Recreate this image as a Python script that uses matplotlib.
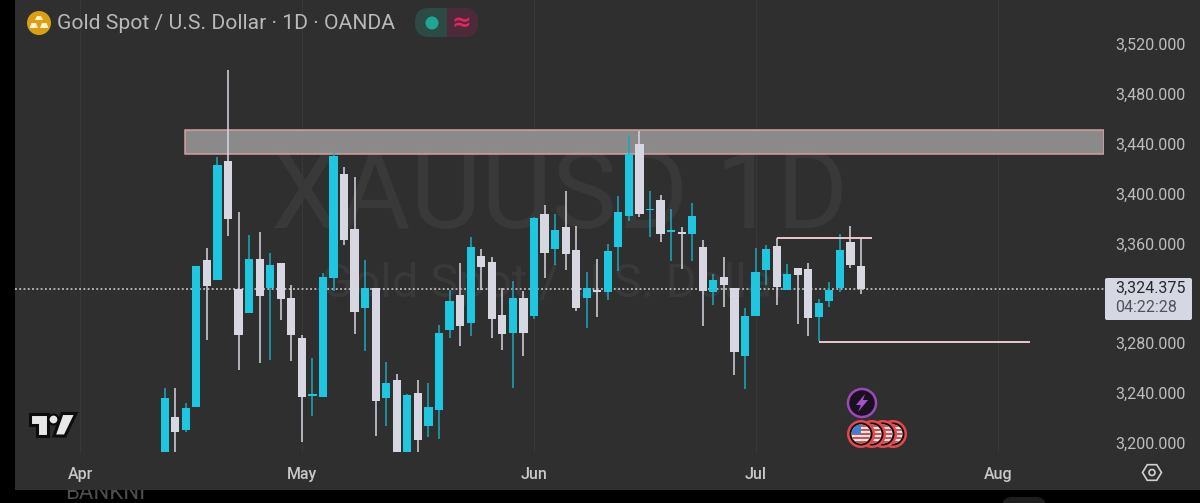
import matplotlib
matplotlib.use("Agg")
import numpy as np
import matplotlib.pyplot as plt
from matplotlib.patches import Rectangle, Circle, Polygon, FancyBboxPatch
from matplotlib.transforms import ScaledTranslation

plt.rcParams['font.family'] = ['Roboto', 'DejaVu Sans']

# daily candles, one value per session
opens = [3193.9, 3222.1, 3212.0, 3230.1, 3348.0, 3332.0, 3427.5, 3324.5, 3305.3, 3348.8, 3325.6,
         3345.3, 3317.3, 3285.1, 3239.2, 3237.9, 3333.3, 3416.8, 3372.5, 3309.6, 3325.1, 3237.3,
         3251.5, 3193.9, 3241.3, 3215.2, 3227.5, 3292.0, 3319.5, 3297.3, 3351.2, 3345.9, 3304.0,
         3289.3, 3317.3, 3302.7, 3384.5, 3356.5, 3374.1, 3356.0, 3317.3, 3324.0, 3322.1, 3357.9,
         3383.5, 3440.5, 3387.7, 3396.0, 3370.4, 3369.9, 3368.8, 3358.1, 3322.1, 3333.9, 3325.3,
         3271.2, 3302.7, 3339.5, 3359.2, 3323.5, 3341.3, 3340.3, 3302.4, 3315.2, 3325.3, 3362.1,
         3342.7]
highs = [3245.3, 3245.3, 3233.3, 3342.7, 3357.3, 3430.1, 3500.0, 3386.7, 3367.5, 3370.1, 3353.3,
         3345.3, 3328.0, 3287.7, 3269.1, 3337.3, 3433.9, 3422.1, 3414.7, 3347.5, 3325.1, 3265.9,
         3256.8, 3240.5, 3251.5, 3249.3, 3295.5, 3324.0, 3345.3, 3366.1, 3356.5, 3350.1, 3325.3,
         3331.2, 3322.7, 3382.7, 3392.0, 3384.5, 3403.5, 3375.2, 3337.9, 3348.8, 3360.5, 3399.2,
         3448.0, 3451.5, 3403.2, 3400.0, 3388.5, 3374.1, 3393.3, 3363.5, 3336.8, 3350.1, 3325.3,
         3309.3, 3357.3, 3359.5, 3365.3, 3344.8, 3341.3, 3345.3, 3316.5, 3329.9, 3368.5, 3374.7,
         3365.3]
lows = [3193.9, 3193.9, 3210.1, 3230.1, 3284.0, 3332.0, 3366.7, 3260.0, 3305.3, 3265.3, 3268.0,
        3300.0, 3266.7, 3201.9, 3222.7, 3237.9, 3322.7, 3360.0, 3288.8, 3274.7, 3207.2, 3215.2,
        3193.9, 3193.9, 3193.9, 3206.1, 3204.5, 3285.1, 3278.7, 3287.2, 3323.5, 3285.3, 3276.0,
        3245.3, 3271.2, 3300.5, 3333.1, 3343.5, 3339.5, 3306.7, 3293.3, 3301.9, 3315.5, 3338.7,
        3379.5, 3382.7, 3366.1, 3362.4, 3347.2, 3340.5, 3346.7, 3295.2, 3312.0, 3309.9, 3255.5,
        3244.5, 3302.7, 3327.5, 3311.7, 3323.5, 3296.3, 3286.7, 3282.7, 3310.1, 3322.1, 3341.1,
        3320.3]
closes = [3237.3, 3210.1, 3229.3, 3342.7, 3327.2, 3424.0, 3381.1, 3287.7, 3348.5, 3319.2, 3343.5,
          3316.8, 3287.7, 3237.9, 3240.5, 3333.9, 3431.2, 3364.0, 3305.9, 3325.1, 3234.7, 3249.3,
          3193.9, 3239.5, 3204.0, 3229.9, 3289.3, 3314.9, 3294.7, 3358.1, 3342.1, 3300.5, 3288.5,
          3317.3, 3289.3, 3381.9, 3353.3, 3372.0, 3352.3, 3309.3, 3325.3, 3322.4, 3354.7, 3386.1,
          3432.5, 3384.8, 3389.1, 3368.8, 3371.7, 3368.8, 3383.5, 3322.9, 3332.0, 3327.5, 3273.9,
          3302.7, 3338.4, 3356.8, 3325.9, 3336.5, 3336.0, 3301.6, 3313.3, 3324.0, 3355.5, 3343.5,
          3324.375]

month_labels = ['Apr', 'May', 'Jun', 'Jul', 'Aug']
month_pos = [-8, 13, 35, 56, 79]
price_ticks = [3200, 3240, 3280, 3360, 3400, 3440, 3480, 3520]
last_price = 3324.375
countdown = '04:22:28'

zone_low, zone_high = 3432.8, 3452.0
zone_start, zone_end = 1.92, 89.03
res_level, res_start, res_end = 3365.6, 58, 67
sup_level, sup_start, sup_end = 3282.6, 62, 82

BG = '#2f2f2f'
UP = '#1fc6df'
UP_WICK = '#1ba9bf'
DOWN = '#d6d7e0'
GRID = '#383838'
WM = '#393939'
LABEL = '#bdbdbd'
LEVEL = '#ecc8cc'


def px_axes(fig, zorder):
    a = fig.add_axes([0, 0, 1, 1], zorder=zorder)
    a.set_xlim(0, 1200)
    a.set_ylim(503, 0)
    a.axis('off')
    a.patch.set_alpha(0)
    return a


def draw_flag(a, cx, cy):
    a.add_patch(Circle((cx, cy), 14, fc='#e8474c', ec='none'))
    a.add_patch(Circle((cx, cy), 11.5, fc='#111111', ec='none'))
    face = Circle((cx, cy), 9.5, fc='#f2f2f2', ec='none')
    a.add_patch(face)
    for k in range(-2, 3):
        s = a.add_patch(Rectangle((cx - 10, cy + k * 4 - 1), 20, 2, fc='#e8474c', ec='none'))
        s.set_clip_path(face)
    c = a.add_patch(Rectangle((cx - 10, cy - 10), 10, 10, fc='#3d7fd0', ec='none'))
    c.set_clip_path(face)


fig = plt.figure(figsize=(12, 5.03), dpi=100, facecolor='black')

# background panel, watermark
back = px_axes(fig, 0)
back.text(65, 499, 'BANKNI', color='#4d4d4d', fontsize=16, ha='left', va='baseline', zorder=1)
back.add_patch(FancyBboxPatch((1002, 497), 44, 20, boxstyle='round,pad=0,rounding_size=10',
                              fc='#1e1e1e', ec='none', zorder=1))
back.add_patch(Rectangle((15, 0), 1185, 490, fc=BG, ec='none', zorder=2))
back.text(560, 198, 'XAUUSD 1D', color=WM, fontsize=78.5, ha='center', va='center', zorder=3)
back.text(555, 284, 'Gold Spot / U.S. Dollar', color=WM, fontsize=34, ha='center', va='center', zorder=3)

# price axes
ax = fig.add_axes([15 / 1200, 1 - 452.5 / 503, 1089 / 1200, 452.5 / 503], zorder=1)
ax.patch.set_alpha(0)
ax.set_xlim(-14.19, 89.03)
ax.set_ylim(3193.8, 3556)
for s in ax.spines.values():
    s.set_visible(False)
ax.set_xticks(month_pos)
ax.set_xticklabels(month_labels, color='#c8c8c8', fontsize=11.5, fontweight='medium')
ax.tick_params(axis='x', length=0, pad=10.5)
ax.yaxis.tick_right()
ax.set_yticks(price_ticks)
ax.set_yticklabels([f'{p:,.3f}' for p in price_ticks], color=LABEL, fontsize=11.5, ha='left')
ax.tick_params(axis='y', length=0, pad=8)
for lab in ax.get_yticklabels():
    lab.set_transform(lab.get_transform() + ScaledTranslation(0, 1.5 / 100, fig.dpi_scale_trans))
ax.set_axisbelow(True)
ax.grid(axis='x', color=GRID, lw=0.8)

ax.add_patch(Rectangle((zone_start, zone_low), zone_end - zone_start, zone_high - zone_low,
                       fc='#8e8e8e', ec='#d9a0a4', lw=1.1, zorder=1, alpha=0.97))
ax.axhline(last_price, color='#d8d8d8', lw=1.1, ls=(0, (1.2, 1.6)), zorder=1.5)

idx = np.arange(len(opens))
o = np.array(opens)
c = np.array(closes)
up = c >= o
ax.vlines(idx, lows, highs, colors=[UP_WICK if u else DOWN for u in up], lw=1.1, zorder=2)
ax.bar(idx, np.abs(c - o), bottom=np.minimum(o, c), width=0.78,
       color=[UP if u else DOWN for u in up], zorder=3)

ax.hlines(res_level, res_start, res_end, color=LEVEL, lw=1.4, zorder=4)
ax.hlines(sup_level, sup_start, sup_end, color=LEVEL, lw=1.4, zorder=4)

# chart chrome in pixels
top = px_axes(fig, 2)
top.add_patch(Circle((39, 23), 12, fc='#dd9f12', ec='none'))
for bar in ([(35, 20), (43, 20), (41, 16), (37, 16)],
            [(29.5, 28), (38, 28), (36, 23), (31.5, 23)],
            [(40, 28), (48.5, 28), (46.5, 23), (42, 23)]):
    top.add_patch(Polygon(bar, fc='#fff3d0', ec='none'))
top.text(57, 23, 'Gold Spot / U.S. Dollar · 1D · OANDA', color='#b9b9b9', fontsize=15.2,
         ha='left', va='center')
top.add_patch(FancyBboxPatch((415, 8), 63, 29, boxstyle='round,pad=0,rounding_size=14',
                             fc='#2e4a45', ec='none'))
red_half = top.add_patch(Rectangle((447, 8), 31, 29, fc='#4c2a3a', ec='none'))
red_half.set_clip_path(FancyBboxPatch((415, 8), 63, 29, boxstyle='round,pad=0,rounding_size=14',
                                      transform=top.transData))
top.add_patch(Circle((432, 23), 6.5, fc='#1fa891', ec='none'))
top.text(461.5, 23, '≈', color='#e0255f', fontsize=17, ha='center', va='center', fontweight='bold',
         family=['DejaVu Sans'])

# last price tag
top.add_patch(FancyBboxPatch((1105, 278), 87, 42, boxstyle='round,pad=0,rounding_size=2',
                             fc='#d5d8e2', ec='none'))
top.text(1151, 288.5, f'{last_price:,.3f}', color='#26262b', fontsize=11.5, ha='center', va='center')
top.text(1146.5, 307.5, countdown, color='#50525c', fontsize=11.5, ha='center', va='center')

# settings hexagon
t = np.deg2rad(np.arange(0, 360, 60))
top.add_patch(Polygon(np.c_[1152 + 9.5 * np.cos(t), 472.5 + 9 * np.sin(t)], fc='none', ec='#d0d0d0', lw=1.2))
top.add_patch(Circle((1152, 472.5), 3, fc='none', ec='#d0d0d0', lw=1.2))

# tradingview logo
logo = dict(fc='#e8e8e8', ec='#0c0c0c', lw=2.2, joinstyle='miter')
top.add_patch(Polygon([(30, 413.5), (48, 413.5), (48, 436), (37, 436), (37, 424.5), (30, 424.5)], **logo))
top.add_patch(Polygon([(62, 413.5), (76, 413.5), (65, 436), (54, 436)], **logo))
top.add_patch(Circle((53.5, 419.5), 5, fc='#e8e8e8', ec='#0c0c0c', lw=1.6))

# event markers
top.add_patch(Circle((862, 403), 14, fc='#1a1020', ec='#9a4ab8', lw=1.8))
top.add_patch(Polygon([(865, 394), (856, 405), (861, 405), (858, 412), (868, 400), (863, 400)],
                      fc='#a651c9', ec='none'))
for cx in [893, 883, 872, 861]:
    draw_flag(top, cx, 434)

fig.savefig('out.png', dpi=100, facecolor=fig.get_facecolor())
